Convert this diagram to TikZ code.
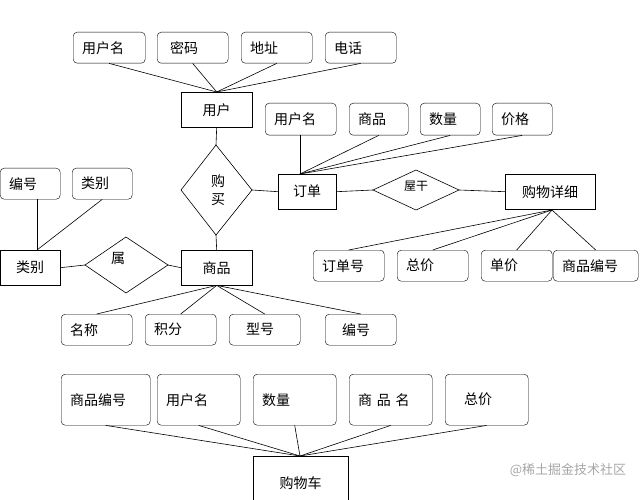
\documentclass[tikz,border=0pt]{standalone}
\usepackage{fontspec}
\setmainfont{Noto Sans CJK SC}
\begin{document}
\begin{tikzpicture}[x=1pt,y=-1pt,
  attr/.style={draw,rounded corners=4pt,align=left,inner xsep=0pt,inner ysep=0pt,font=\fontsize{14}{16}\selectfont},
  ent/.style={draw,inner sep=0pt,font=\fontsize{14}{16}\selectfont},
  ln/.style={line width=0.6pt}]
\useasboundingbox (0,0) rectangle (640,500);
\newcommand{\attrbox}[6]{% name, x1, y1, x2, y2, text
  \node[attr,minimum width={#4-#2},minimum height={#5-#3},text width={#4-#2-18},anchor=north west] (#1) at (#2,#3) {#6};}
\newcommand{\entbox}[6]{%
  \node[ent,minimum width={#4-#2},minimum height={#5-#3},anchor=north west] (#1) at (#2,#3) {#6};}
% users
\attrbox{u1}{73}{32}{145}{63}{用户名}
\attrbox{u2}{157}{32}{228}{63}{\hspace*{4pt}密码}
\attrbox{u3}{241}{32}{312}{63}{地址}
\attrbox{u4}{325}{32}{396}{63}{电话}
\entbox{user}{181}{92}{252}{127}{用户}
\foreach \a in {u1,u2,u3,u4} \draw[ln] (\a.south) -- (user.north);
% buy diamond
\coordinate (bt) at (216,145); \coordinate (bb) at (216,235);
\coordinate (bl) at (181,190); \coordinate (br) at (252,190);
\draw[ln] (bt)--(br)--(bb)--(bl)--cycle;
\node[font=\fontsize{14}{18}\selectfont,align=center] (buy) at (218,190) {购\\买};
\draw[ln] (user.south) -- (bt);
% order
\entbox{order}{278}{174}{336}{209}{订单}
\draw[ln] (br) -- (order.west);
\attrbox{o1}{265}{103}{336}{135}{用户名}
\attrbox{o2}{349}{103}{408}{135}{商品}
\attrbox{o3}{420}{103}{480}{135}{数量}
\attrbox{o4}{492}{103}{552}{135}{价格}
\coordinate (oc) at (300,174);
\draw[ln] (o1.south -| oc) -- (oc);
\foreach \a in {o2,o3,o4} \draw[ln] (\a.south) -- (oc);
% ruogan diamond
\coordinate (rt) at (416,170); \coordinate (rb) at (416,210);
\coordinate (rl) at (373,190); \coordinate (rr) at (459,190);
\draw[ln] (rt)--(rr)--(rb)--(rl)--cycle;
\node[font=\fontsize{12}{14}\selectfont] (rg) at (416,186) {屋干};
\draw[ln] (order.east) -- (rl);
\entbox{detail}{505}{174}{595}{209}{购物详细}
\draw[ln] (rr) -- (detail.west);
\attrbox{d1}{313}{250}{384}{281}{订单号}
\attrbox{d2}{397}{250}{468}{281}{总价}
\attrbox{d3}{481}{250}{552}{281}{单价}
\attrbox{d4}{553}{250}{638}{281}{商品编号}
\coordinate (dc) at (552,210);
\foreach \a in {d1,d2,d3,d4} \draw[ln] (\a.north) -- (dc);
% category
\attrbox{c1}{0}{168}{60}{199}{编号}
\attrbox{c2}{72}{168}{132}{199}{类别}
\entbox{cat}{0}{250}{60}{285}{类别}
\draw[ln] (c1.south -| 37,0) -- (37,250);
\draw[ln] (c2.south) -- (37,250);
\coordinate (st) at (126,237); \coordinate (sb) at (126,293);
\coordinate (sl) at (85,265); \coordinate (sr) at (168,265);
\draw[ln] (st)--(sr)--(sb)--(sl)--cycle;
\node[font=\fontsize{14}{16}\selectfont] (shu) at (118,258) {属};
\draw[ln] (cat.east) -- (sl);
\entbox{goods}{181}{250}{252}{285}{商品}
\draw[ln] (sr) -- (goods.west);
\draw[ln] (bb) -- (goods.north);
\attrbox{g1}{61}{314}{132}{345}{名称}
\attrbox{g2}{145}{314}{216}{345}{积分}
\attrbox{g3}{229}{314}{300}{345}{\hspace*{8pt}型号}
\attrbox{g4}{325}{314}{396}{345}{\hspace*{8pt}编号}
\foreach \a in {g1,g2,g3,g4} \draw[ln] (\a.north) -- (goods.south);
% cart
\attrbox{k1}{61}{374}{150}{425}{商品编号\\[6pt]}
\attrbox{k2}{157}{374}{240}{425}{用户名\\[6pt]}
\attrbox{k3}{253}{374}{336}{425}{数量\\[6pt]}
\attrbox{k4}{349}{374}{432}{425}{商 品 名\\[6pt]}
\attrbox{k5}{445}{374}{528}{425}{\hspace*{10pt}总价\\[6pt]}
\entbox{cart}{253}{456}{348}{510}{购物车}
\coordinate (kc) at (300,456);
\foreach \a in {k1,k2,k3,k4,k5} \draw[ln] (\a.south) -- (kc);
\node[text=gray!70,font=\fontsize{13}{15}\selectfont] (wm) at (568,470) {@稀土掘金技术社区};
\end{tikzpicture}
\end{document}
